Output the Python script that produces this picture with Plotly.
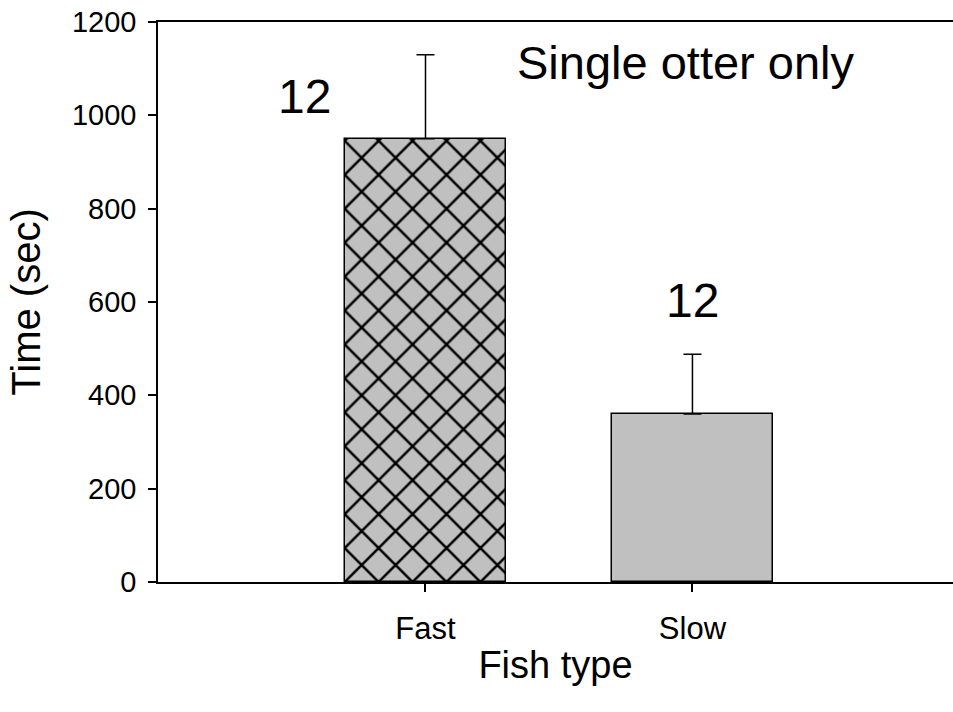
import plotly.graph_objects as go

# Mean time to capture by fish type, with the upper standard error
fish_types = ["Fast", "Slow"]
mean_time = [950, 360]
error_up = [180, 128]
n_labels = ["12", "12"]
bar_patterns = ["x", ""]

positions = list(range(len(fish_types)))
font_family = "Liberation Sans, Arial, sans-serif"

fig = go.Figure()
fig.add_trace(go.Bar(
    x=positions,
    y=mean_time,
    width=0.6,
    marker=dict(
        color="#c0c0c0",
        line=dict(color="black", width=1.5),
        pattern=dict(shape=bar_patterns, fgcolor="black", bgcolor="#c0c0c0",
                     fgopacity=1, size=24, solidity=0.2, fillmode="overlay"),
    ),
    error_y=dict(type="data", symmetric=False, array=error_up,
                 arrayminus=[0] * len(error_up),
                 color="black", thickness=1.5, width=9),
    showlegend=False,
))

# sample size labels: first one sits left of its bar, the second above the error bar
label_x = [-0.455, 1.0]
label_y = [1041, 604]
for lx, ly, txt in zip(label_x, label_y, n_labels):
    fig.add_annotation(x=lx, y=ly, text=txt, showarrow=False,
                       font=dict(size=48, color="black", family=font_family))

fig.add_annotation(x=0.976, y=1114, text="Single otter only", showarrow=False,
                   font=dict(size=47, color="black", family=font_family))

fig.update_layout(
    width=953, height=712,
    margin=dict(l=158, r=0, t=22, b=130),
    plot_bgcolor="white", paper_bgcolor="white",
    font=dict(family=font_family, color="black"),
    bargap=0,
)
fig.update_xaxes(
    range=[-1.002, 1.976],
    tickvals=positions, ticktext=fish_types,
    ticks="outside", ticklen=8, tickwidth=1.5, tickcolor="black",
    showline=True, linecolor="black", linewidth=1.5, mirror=True,
    showgrid=False, zeroline=False,
    tickfont=dict(size=31), ticklabelstandoff=10,
    title=dict(text="Fish type", font=dict(size=38), standoff=6),
)
fig.update_yaxes(
    range=[0, 1200], tickvals=[0, 200, 400, 600, 800, 1000, 1200],
    ticks="outside", ticklen=8, tickwidth=1.5, tickcolor="black",
    showline=True, linecolor="black", linewidth=1.5,
    showgrid=False, zeroline=False,
    tickfont=dict(size=29), ticklabelstandoff=6,
    title=dict(text="Time (sec)", font=dict(size=40), standoff=19),
)

fig.write_html("out.html")
